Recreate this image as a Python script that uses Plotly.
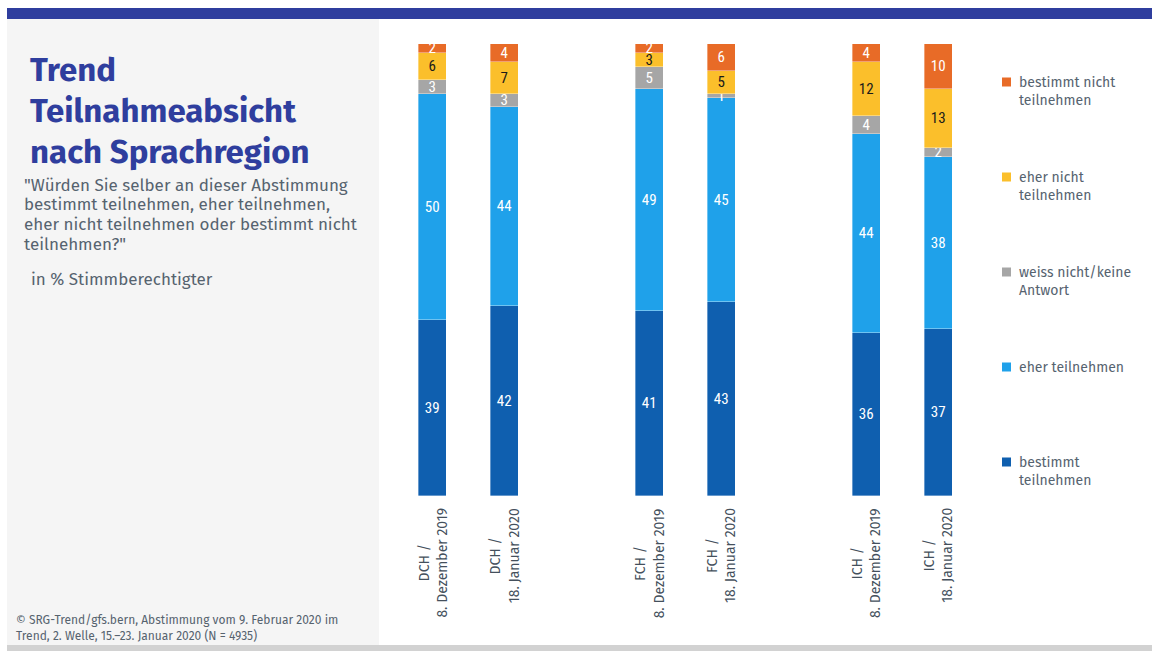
import plotly.graph_objects as go

# Survey waves per language region (slot positions leave a gap between regions)
regions = ["DCH", "DCH", "FCH", "FCH", "ICH", "ICH"]
waves = ["8. Dezember 2019", "18. Januar 2020",
         "8. Dezember 2019", "18. Januar 2020",
         "8. Dezember 2019", "18. Januar 2020"]
slots = [0, 1, 3, 4, 6, 7]

# Answer shares in % of eligible voters
bestimmt_teilnehmen = [39, 42, 41, 43, 36, 37]
eher_teilnehmen = [50, 44, 49, 45, 44, 38]
weiss_nicht = [3, 3, 5, 1, 4, 2]
eher_nicht_teilnehmen = [6, 7, 3, 5, 12, 13]
bestimmt_nicht_teilnehmen = [2, 4, 2, 6, 4, 10]

series = [
    ("bestimmt<br>teilnehmen", bestimmt_teilnehmen, "#0F5FAF", "white"),
    ("eher teilnehmen", eher_teilnehmen, "#1FA1EA", "white"),
    ("weiss nicht/keine<br>Antwort", weiss_nicht, "#A6A6A6", "white"),
    ("eher nicht<br>teilnehmen", eher_nicht_teilnehmen, "#FBBF2B", "#1A1A1A"),
    ("bestimmt nicht<br>teilnehmen", bestimmt_nicht_teilnehmen, "#E86B27", "white"),
]

title_lines = ["Trend", "Teilnahmeabsicht", "nach Sprachregion"]
question_lines = ["\"Würden Sie selber an dieser Abstimmung",
                  "bestimmt teilnehmen, eher teilnehmen,",
                  "eher nicht teilnehmen oder bestimmt nicht",
                  "teilnehmen?\""]
unit_note = "in % Stimmberechtigter"
source_note = ("© SRG-Trend/gfs.bern, Abstimmung vom 9. Februar 2020 im<br>"
               "Trend, 2. Welle, 15.–23. Januar 2020 (N = 4935)")

W, H = 1152, 651
FONT = "Fira Sans, Roboto, sans-serif"
NUMFONT = "Roboto Condensed, Liberation Sans Narrow, Roboto, sans-serif"
TEXT_GREY = "#56636F"
BLUE_DARK = "#2F3E9E"


def px(xp):
    return xp / W


def py(yp):
    return 1 - yp / H


fig = go.Figure()
for name, vals, color, tcolor in series:
    fig.add_trace(go.Bar(
        x=slots, y=vals, name=name,
        marker=dict(color=color, line=dict(color="rgba(255,255,255,0.6)", width=0.6)),
        width=0.39,
        text=[str(v) for v in vals],
        textposition="inside", insidetextanchor="middle", textangle=0,
        textfont=dict(family=NUMFONT, size=15, color=tcolor),
        showlegend=False,
        hoverinfo="skip",
    ))

shapes = [
    # top banner
    dict(type="rect", xref="paper", yref="paper", x0=px(7), x1=1, y0=py(19), y1=py(8),
         fillcolor=BLUE_DARK, line=dict(width=0), layer="below"),
    # left text panel
    dict(type="rect", xref="paper", yref="paper", x0=px(7), x1=px(379), y0=py(645), y1=py(19),
         fillcolor="#F5F5F5", line=dict(width=0), layer="below"),
    # bottom strip
    dict(type="rect", xref="paper", yref="paper", x0=px(7), x1=1, y0=0, y1=py(645),
         fillcolor="#D2D2D2", line=dict(width=0), layer="below"),
]

annotations = []

# headline, one line at a time
for k, line in enumerate(title_lines):
    annotations.append(dict(
        text=f"<b>{line}</b>", xref="paper", yref="paper",
        x=px(28), y=py(70 + 41 * k), xanchor="left", yanchor="middle",
        showarrow=False, font=dict(family=FONT, size=33, color=BLUE_DARK)))

# question wording
for k, line in enumerate(question_lines):
    annotations.append(dict(
        text=line, xref="paper", yref="paper",
        x=px(22), y=py(185 + 19.7 * k), xanchor="left", yanchor="middle",
        showarrow=False, font=dict(family=FONT, size=17, color=TEXT_GREY)))

annotations.append(dict(
    text=unit_note, xref="paper", yref="paper", x=px(29), y=py(279),
    xanchor="left", yanchor="middle", showarrow=False,
    font=dict(family=FONT, size=17, color=TEXT_GREY)))

annotations.append(dict(
    text=source_note, xref="paper", yref="paper", x=px(14), y=py(611),
    xanchor="left", yanchor="top", align="left", showarrow=False,
    font=dict(family=FONT, size=12, color=TEXT_GREY)))

# rotated category labels beneath each bar
for s, r, w in zip(slots, regions, waves):
    annotations.append(dict(
        text=f"{r} /<br>{w}", x=s, xref="x", y=py(506), yref="paper",
        xanchor="center", yanchor="top", textangle=-90, align="center",
        showarrow=False, font=dict(family=FONT, size=14, color="#44505C"),
    ))

# legend: top entry is the top segment of the stack
for k, (name, vals, color, tcolor) in enumerate(reversed(series)):
    yc = 82 + 95 * k
    shapes.append(dict(
        type="rect", xref="paper", yref="paper",
        x0=px(1002), x1=px(1011), y0=py(yc + 4.5), y1=py(yc - 4.5),
        fillcolor=color, line=dict(width=0)))
    annotations.append(dict(
        text=name, xref="paper", yref="paper", x=px(1017), y=py(yc - 10),
        xanchor="left", yanchor="top", align="left", showarrow=False,
        font=dict(family=FONT, size=14, color=TEXT_GREY)))

fig.update_layout(
    width=W, height=H,
    margin=dict(l=0, r=0, t=0, b=0),
    paper_bgcolor="white", plot_bgcolor="rgba(0,0,0,0)",
    barmode="stack",
    bargap=0,
    uniformtext=dict(minsize=15, mode="show"),
    xaxis=dict(domain=[px(396.5), px(974.5)], range=[-0.5, 7.5], showticklabels=False,
               showgrid=False, zeroline=False, showline=False, ticks=""),
    yaxis=dict(domain=[py(496), py(44)], range=[0, 100], showticklabels=False,
               showgrid=False, zeroline=False, showline=False, ticks=""),
    showlegend=False,
    shapes=shapes,
    annotations=annotations,
)

fig.write_html("out.html")
